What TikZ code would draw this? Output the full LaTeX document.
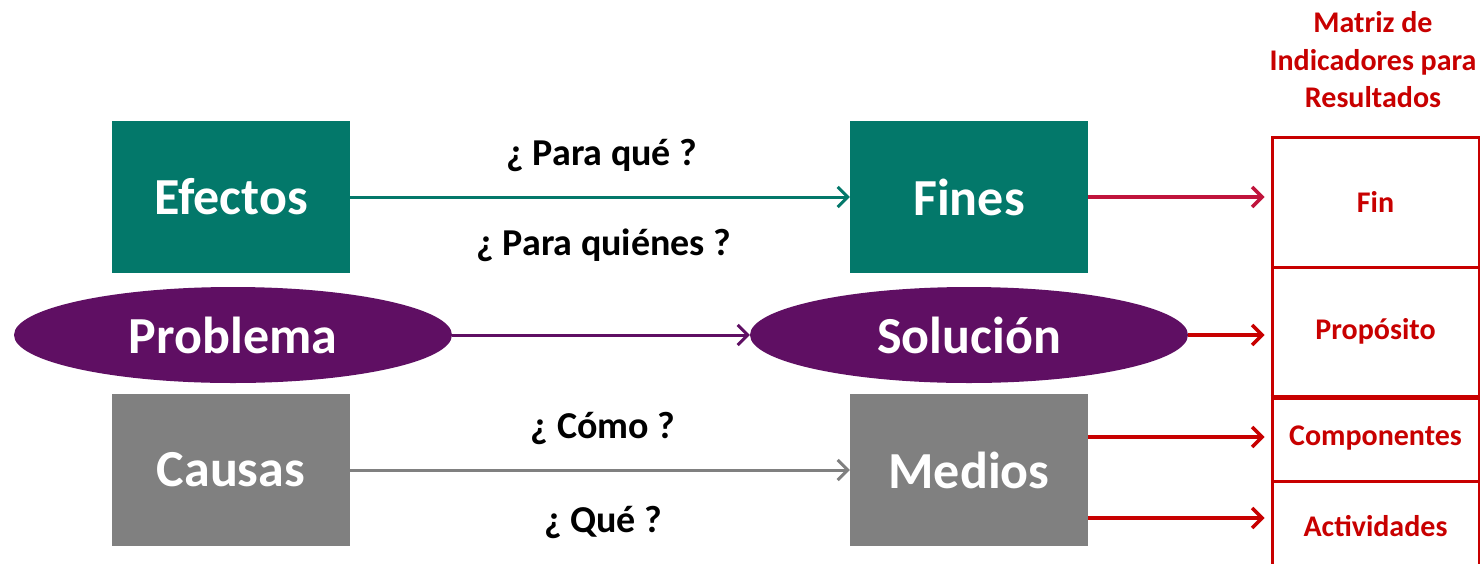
\documentclass[tikz,border=0pt]{standalone}
\usepackage{fontspec}
\setmainfont{Carlito}
\usetikzlibrary{shapes.geometric,arrows.meta}
\definecolor{tealb}{HTML}{03786A}
\definecolor{purp}{HTML}{5F0F63}
\definecolor{grayb}{HTML}{808080}
\definecolor{mred}{HTML}{C80000}
\definecolor{mredb}{HTML}{C0143C}
\begin{document}
\begin{tikzpicture}[x=1pt,y=-1pt,
 box/.style={rectangle, minimum width=238pt, minimum height=152pt, inner sep=0pt, text=white, font=\bfseries\fontsize{52}{56}\selectfont},
 oval/.style={ellipse, fill=purp, minimum width=438pt, minimum height=96pt, inner sep=0pt, text=white, font=\bfseries\fontsize{52}{56}\selectfont},
 quest/.style={font=\bfseries\fontsize{38}{42}\selectfont, text=black},
 cell/.style={draw=mred, line width=3pt, minimum width=207pt, inner sep=0pt, text=mred, font=\bfseries\fontsize{30}{34}\selectfont},
 conn/.style={line width=3pt, -{Straight Barb[length=10pt,width=20pt]}},
 rconn/.style={line width=3.5pt, -{Straight Barb[length=10pt,width=20pt]}, shorten >=6pt},
]
\useasboundingbox (0,0) rectangle (1480,563);
\fill[white] (0,0) rectangle (1480,563);

\node[box, fill=tealb] (efectos) at (231,197) {Efectos};
\node[box, fill=tealb] (fines) at (969,197) {Fines};
\node[box, fill=grayb] (causas) at (231,470) {Causas};
\node[box, fill=grayb] (medios) at (969,470) {Medios};
\node[oval] (problema) at (233,335) {Problema};
\node[oval] (solucion) at (969,335) {Solución};

\node[quest] (q1) at (602,155) {¿ Para qué ?};
\node[quest] (q2) at (604,245) {¿ Para quiénes ?};
\node[quest] (q3) at (603,428) {¿ Cómo ?};
\node[quest] (q4) at (603,522) {¿ Qué ?};

\node[align=center, text=mred, font=\bfseries\fontsize{30}{37.5}\selectfont] (titulo) at (1373,60) {Matriz de\\Indicadores para\\Resultados};

\node[cell, minimum height=130pt] (fin) at (1375.5,202) {Fin};
\node[cell, minimum height=129pt] (prop) at (1375.5,331.5) {Propósito};
\node[cell, minimum height=85pt] (comp) at (1375.5,438.5) {Componentes};
\node[cell, minimum height=90pt] (act) at (1375.5,526) {Actividades};
\draw[mred, line width=4.5pt] (prop.south west) -- (prop.south east);

\draw[conn, tealb] (efectos.east) -- (fines.west);
\draw[conn, purp] (problema.east) -- (solucion.west);
\draw[conn, grayb] (causas.east) -- (medios.west);

\draw[rconn, mredb] (fines.east) -- (fines.east -| fin.west);
\draw[rconn, mred] (solucion.east) -- (solucion.east -| prop.west);
\draw[rconn, mred] ([yshift=33pt]medios.east) -- ([yshift=33pt]medios.east -| comp.west);
\draw[rconn, mred] ([yshift=-48pt]medios.east) -- ([yshift=-48pt]medios.east -| act.west);
\end{tikzpicture}
\end{document}
